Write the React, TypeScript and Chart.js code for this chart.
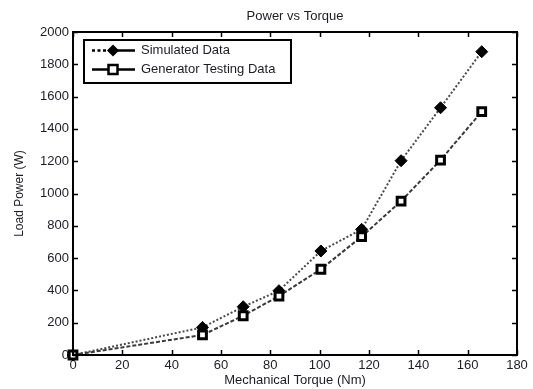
import React, { useEffect, useRef } from "react";
import { Chart, registerables } from "chart.js";

Chart.register(...registerables);

const torque = [0, 52.5, 69, 83.5, 100.5, 117, 133, 149, 165.7];
const simulatedPower = [0, 171, 299, 398, 644, 778, 1203, 1531, 1878];
const generatorPower = [0, 124, 243, 365, 531, 733, 953, 1207, 1507];
const xTicks = [0, 20, 40, 60, 80, 100, 120, 140, 160, 180];
const yTicks = [0, 200, 400, 600, 800, 1000, 1200, 1400, 1600, 1800, 2000];
const seriesNames = ["Simulated Data", "Generator Testing Data"];
const titleText = "Power vs Torque";
const xTitle = "Mechanical Torque (Nm)";
const yTitle = "Load Power (W)";

const FONT = "'Liberation Sans', Arial, sans-serif";
const TEXT = "#1c1c24";

const decorPlugin = {
  id: "decor",
  afterDraw(chart: any) {
    const ctx = chart.ctx;
    const { left, right, top, bottom } = chart.chartArea;
    const xs = chart.scales.x;
    const ys = chart.scales.y;
    ctx.save();
    // box
    ctx.strokeStyle = "#000";
    ctx.lineWidth = 2;
    ctx.setLineDash([]);
    ctx.strokeRect(left, top, right - left, bottom - top);
    // inward ticks
    ctx.lineWidth = 1.5;
    const tl = 5;
    ctx.beginPath();
    xTicks.forEach((v) => {
      const px = Math.round(xs.getPixelForValue(v)) + 0.5;
      ctx.moveTo(px, bottom);
      ctx.lineTo(px, bottom - tl);
      ctx.moveTo(px, top);
      ctx.lineTo(px, top + tl);
    });
    yTicks.forEach((v) => {
      const py = Math.round(ys.getPixelForValue(v)) + 0.5;
      ctx.moveTo(left, py);
      ctx.lineTo(left + tl, py);
      ctx.moveTo(right, py);
      ctx.lineTo(right - tl, py);
    });
    ctx.stroke();

    // title
    ctx.fillStyle = TEXT;
    ctx.font = `13px ${FONT}`;
    ctx.textAlign = "center";
    ctx.textBaseline = "middle";
    ctx.fillText(titleText, (left + right) / 2, 16);
    // x title
    ctx.font = `13px ${FONT}`;
    ctx.fillText(xTitle, (left + right) / 2, 380);
    // y title
    ctx.save();
    ctx.translate(20, (top + bottom) / 2);
    ctx.rotate(-Math.PI / 2);
    ctx.font = `12px ${FONT}`;
    ctx.fillText(yTitle, 0, 0);
    ctx.restore();

    // legend
    const bx = 84, by = 40, bw = 207, bh = 43;
    ctx.fillStyle = "#fff";
    ctx.fillRect(bx, by, bw, bh);
    ctx.strokeStyle = "#000";
    ctx.lineWidth = 2;
    ctx.strokeRect(bx, by, bw, bh);
    const rows = [50.5, 69.5];
    const lx0 = 92, lx1 = 135, mx = 113;
    // row 1: dotted then solid with diamond
    ctx.lineWidth = 2.5;
    ctx.beginPath();
    ctx.setLineDash([3, 2.5]);
    ctx.moveTo(lx0, rows[0]);
    ctx.lineTo(mx - 4, rows[0]);
    ctx.stroke();
    ctx.setLineDash([]);
    ctx.beginPath();
    ctx.moveTo(mx, rows[0]);
    ctx.lineTo(lx1, rows[0]);
    ctx.stroke();
    ctx.fillStyle = "#000";
    ctx.beginPath();
    ctx.moveTo(mx, rows[0] - 6);
    ctx.lineTo(mx + 6, rows[0]);
    ctx.lineTo(mx, rows[0] + 6);
    ctx.lineTo(mx - 6, rows[0]);
    ctx.closePath();
    ctx.fill();
    // row 2: solid with square
    ctx.beginPath();
    ctx.moveTo(lx0, rows[1]);
    ctx.lineTo(lx1, rows[1]);
    ctx.stroke();
    ctx.fillStyle = "#fff";
    ctx.fillRect(mx - 4.5, rows[1] - 4.5, 9, 9);
    ctx.lineWidth = 2.5;
    ctx.strokeRect(mx - 4.5, rows[1] - 4.5, 9, 9);
    // legend text
    ctx.fillStyle = TEXT;
    ctx.font = `13px ${FONT}`;
    ctx.textAlign = "left";
    ctx.textBaseline = "middle";
    ctx.fillText(seriesNames[0], 141, rows[0]);
    ctx.fillText(seriesNames[1], 141, rows[1]);
    ctx.restore();
  },
};

export default function App() {
  const ref = useRef<HTMLCanvasElement | null>(null);
  useEffect(() => {
    document.body.style.margin = "0";
    const canvas = ref.current;
    if (!canvas) return;
    const chart = new Chart(canvas, {
      type: "line",
      data: {
        datasets: [
          {
            label: seriesNames[0],
            data: torque.map((x, i) => ({ x, y: simulatedPower[i] })),
            borderColor: "#4a4a4a",
            borderWidth: 2,
            borderDash: [2, 2],
            pointStyle: "rectRot",
            pointRadius: 6,
            pointBackgroundColor: "#000",
            pointBorderColor: "#000",
            pointBorderWidth: 1,
            clip: false,
            order: 1,
            tension: 0,
          },
          {
            label: seriesNames[1],
            data: torque.map((x, i) => ({ x, y: generatorPower[i] })),
            borderColor: "#3a3a3a",
            borderWidth: 2,
            borderDash: [4, 2],
            pointStyle: "rect",
            pointRadius: 5.5,
            pointBackgroundColor: "#fff",
            pointBorderColor: "#000",
            pointBorderWidth: 3,
            clip: false,
            order: 0,
            tension: 0,
          },
        ],
      },
      options: {
        responsive: false,
        animation: false,
        events: [],
        layout: { padding: { left: 0, right: 16, top: 32, bottom: 0 } },
        plugins: {
          legend: { display: false },
          title: { display: false },
          tooltip: { enabled: false },
        },
        scales: {
          x: {
            type: "linear",
            min: 0,
            max: 180,
            afterFit: (s: any) => {
              s.height = 34;
            },
            afterBuildTicks: (s: any) => {
              s.ticks = xTicks.map((v) => ({ value: v }));
            },
            grid: { display: false, drawTicks: false },
            border: { display: false },
            ticks: {
              font: { family: FONT, size: 13 },
              color: TEXT,
              padding: 3,
              maxRotation: 0,
              autoSkip: false,
              callback: (v: any) => String(v),
            },
          },
          y: {
            type: "linear",
            min: 0,
            max: 2000,
            afterFit: (s: any) => {
              s.width = 73;
            },
            afterBuildTicks: (s: any) => {
              s.ticks = yTicks.map((v) => ({ value: v }));
            },
            grid: { display: false, drawTicks: false },
            border: { display: false },
            ticks: {
              font: { family: FONT, size: 13 },
              color: TEXT,
              padding: 4,
              autoSkip: false,
              callback: (v: any) => String(v),
            },
          },
        },
      },
      plugins: [decorPlugin],
    });
    return () => chart.destroy();
  }, []);
  return (
    <div style={{ position: "absolute", left: 0, top: 0, width: 533, height: 389, background: "#fff" }}>
      <canvas ref={ref} width={533} height={389} style={{ display: "block" }} />
    </div>
  );
}
